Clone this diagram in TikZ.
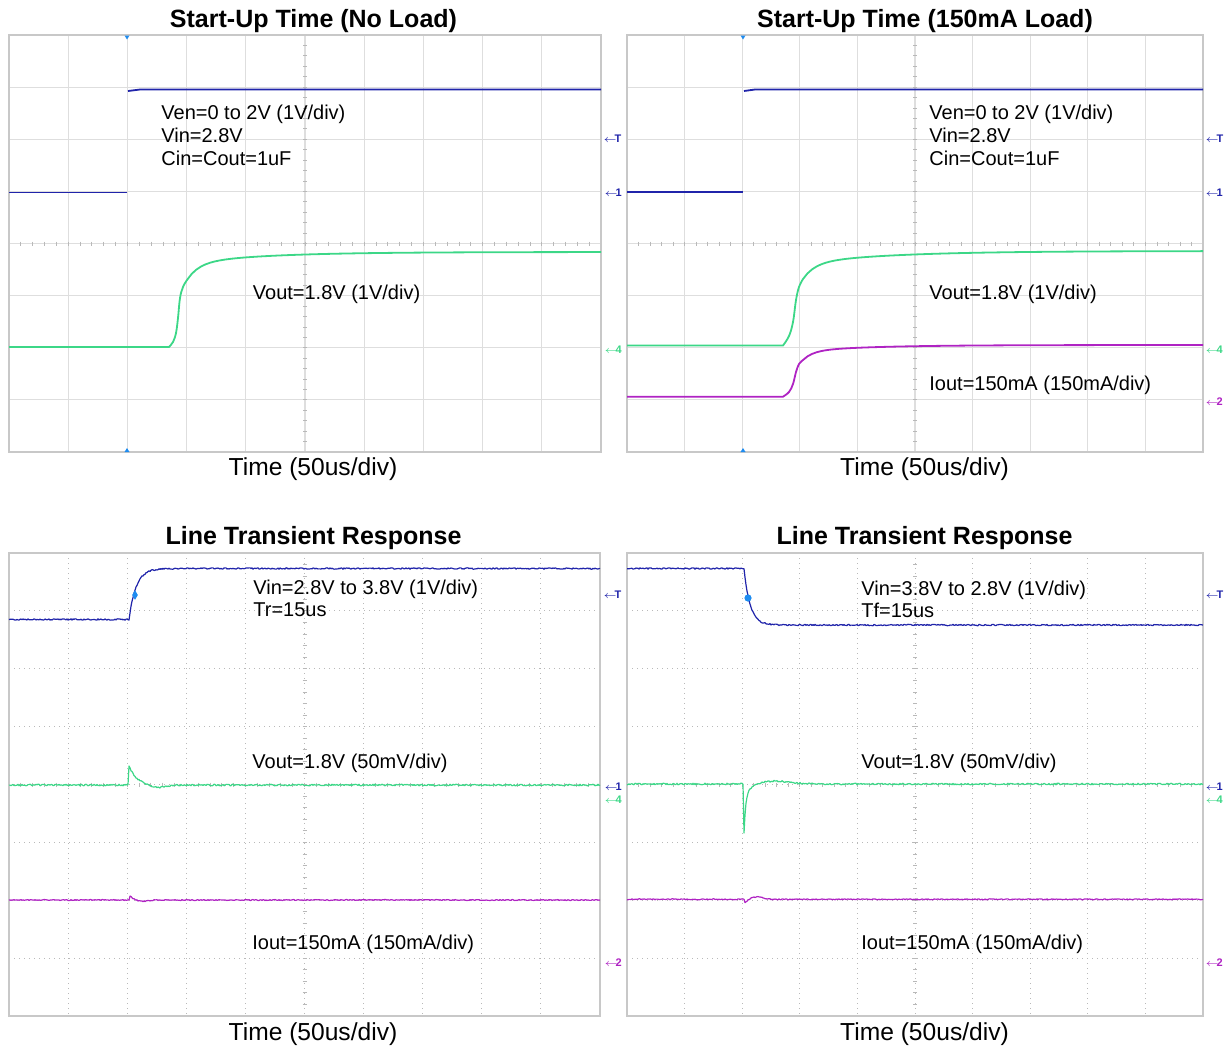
\documentclass[tikz,border=0pt]{standalone}
\usepackage{fontspec}
\setmainfont{Liberation Sans}
\usetikzlibrary{shapes.geometric}

\definecolor{trblue}{RGB}{32,36,170}
\definecolor{trgreen}{RGB}{60,215,135}
\definecolor{trmag}{RGB}{175,35,195}
\definecolor{mkblue}{RGB}{30,140,240}
\definecolor{gridgray}{RGB}{222,222,222}
\definecolor{dotgray}{RGB}{185,185,185}
\definecolor{framegray}{RGB}{200,200,200}

% screen: left, top, right, bottom, grid style
\newcommand{\drawgrid}[5]{%
  \foreach \i in {1,...,9}
    \draw[#5] ({#1+\i*((#3-#1)/10)},#2) -- ({#1+\i*((#3-#1)/10)},#4);
  \foreach \j in {1,...,7}
    \draw[#5] (#1,{#2+\j*((#4-#2)/8)}) -- (#3,{#2+\j*((#4-#2)/8)});
  \foreach \i in {1,...,49}
    \draw[divtick] ({#1+\i*((#3-#1)/50)},{(#2+#4)/2-2}) -- ++(0,4);
  \foreach \j in {1,...,39}
    \draw[divtick] ({(#1+#3)/2-2},{#2+\j*((#4-#2)/40)}) -- ++(4,0);
  \draw[screenframe] (#1,#2) rectangle (#3,#4);
}
% channel marker text
\newcommand{\chm}[1]{$\leftarrow$\kern-1.2pt#1}

\begin{document}
\begin{tikzpicture}[x=0.5pt, y=-0.5pt,
    declare function={ex(\t)=exp(min(0,max(-9,\t)));},
    gridsolid/.style={draw=gridgray, line width=0.6pt},
    griddot/.style={draw=dotgray, line width=0.5pt, dotted},
    divtick/.style={draw=dotgray, line width=0.4pt},
    screenframe/.style={draw=framegray, line width=0.6pt},
    chblue/.style={draw=trblue, line width=0.9pt, line join=round},
    chgreen/.style={draw=trgreen, line width=0.9pt, line join=round},
    chmag/.style={draw=trmag, line width=0.9pt, line join=round},
    noisy/.style={line width=0.6pt},
    lbl/.style={font=\fontsize{10}{12}\selectfont, inner sep=0pt, anchor=base west},
    title/.style={font=\fontsize{12.5}{14}\selectfont\bfseries, inner sep=0pt, anchor=base},
    axislbl/.style={font=\fontsize{12.3}{14}\selectfont, inner sep=0pt, anchor=base},
    chmark/.style={font=\fontsize{5.5}{5.5}\selectfont\bfseries, inner sep=0pt, anchor=west}]
  \useasboundingbox (0,0) rectangle (1225,1049);
  \pgfmathsetseed{11}

  % start-up, no load
  \drawgrid{9}{35}{601}{452}{gridsolid}
  \fill[mkblue] (124.5,35.5) -- (129.5,35.5) -- (127,39.5) -- cycle;
  \fill[mkblue] (124.5,452) -- (129.5,452) -- (127,448) -- cycle;
  \draw[chblue] (9,192.5) -- (127,192.5);
  \draw[chblue] (128,91) -- (140,89.5) -- (601,89.5);
  \draw[chgreen] (9,347) -- plot[smooth, tension=0.6] coordinates
      {(169,347) (173,342) (176,333) (178,318) (180,298) (183,287) (187,280)}
    -- plot[domain=187:601, samples=90] (\x,{252+17*ex(-(\x-187)/12)+11*ex(-(\x-187)/80)});
  \node[title] (t1) at (313.5,27) {Start-Up Time (No Load)};
  \node[lbl] (en1) at (161,119.3) {Ven=0 to 2V (1V/div)};
  \node[lbl] (in1) at (161,142.3) {Vin=2.8V};
  \node[lbl] (c1) at (161,165) {Cin=Cout=1uF};
  \node[lbl] (out1) at (252.5,299) {Vout=1.8V (1V/div)};
  \node[axislbl] (x1) at (313,475) {Time (50us/div)};
  \node[chmark, text=trblue] (mt1) at (603,139) {\chm{T}};
  \node[chmark, text=trblue] (ma1) at (604,193) {\chm{1}};
  \node[chmark, text=trgreen] (mb1) at (604,350) {\chm{4}};

  % start-up, 150mA load
  \drawgrid{627}{35}{1203}{452}{gridsolid}
  \fill[mkblue] (740.5,35.5) -- (745.5,35.5) -- (743,39.5) -- cycle;
  \fill[mkblue] (740.5,452) -- (745.5,452) -- (743,448) -- cycle;
  \draw[chblue] (627,192) -- (743,192);
  \draw[chblue] (744,91) -- (755,89.5) -- (1203,89.5);
  \draw[chgreen] (627,345.5) -- plot[smooth, tension=0.6] coordinates
      {(783,345.5) (789,336) (793,322) (796,300) (799,287) (803,279)}
    -- plot[domain=803:1203, samples=90] (\x,{251+16*ex(-(\x-803)/12)+12*ex(-(\x-803)/90)});
  \draw[chmag] (627,396.7) -- plot[smooth, tension=0.6] coordinates
      {(783,396.7) (789,392) (793,384) (796,372) (799,364) (803,360)}
    -- plot[domain=803:1203, samples=90] (\x,{345+9*ex(-(\x-803)/10)+6*ex(-(\x-803)/70)});
  \node[title] (t2) at (925,27) {Start-Up Time (150mA Load)};
  \node[lbl] (en2) at (929,119.3) {Ven=0 to 2V (1V/div)};
  \node[lbl] (in2) at (929,142.3) {Vin=2.8V};
  \node[lbl] (c2) at (929,165) {Cin=Cout=1uF};
  \node[lbl] (out2) at (929,299.5) {Vout=1.8V (1V/div)};
  \node[lbl] (io2) at (929,390) {Iout=150mA (150mA/div)};
  \node[axislbl] (x2) at (924.5,475) {Time (50us/div)};
  \node[chmark, text=trblue] (mt2) at (1205,139) {\chm{T}};
  \node[chmark, text=trblue] (ma2) at (1205,193) {\chm{1}};
  \node[chmark, text=trgreen] (mb2) at (1205,350) {\chm{4}};
  \node[chmark, text=trmag] (mc2) at (1205,402) {\chm{2}};

  % line transient, rising
  \drawgrid{9}{553}{600}{1016}{griddot}
  \draw[chblue, noisy] plot[domain=9:600, samples=592]
    (\x,{568.5+51*ex(-(\x-129)/7)+0.7*rand});
  \draw[chgreen, noisy] plot[domain=9:600, samples=592]
    (\x,{785-19*(\x>128.5)*ex(-(\x-129)/8)+3*ex(-((\x-157)/12)*((\x-157)/12))+0.8*rand});
  \draw[chmag, noisy] plot[domain=9:600, samples=592]
    (\x,{900-4.5*(\x>129.5)*ex(-(\x-130)/4)+1.5*ex(-((\x-142)/8)*((\x-142)/8))+0.5*rand});
  \node[diamond, fill=mkblue, inner sep=0pt, minimum width=3pt, minimum height=5pt] (trg3) at (135,595) {};
  \node[title] (t3) at (313.5,544) {Line Transient Response};
  \node[lbl] (in3) at (253,594.3) {Vin=2.8V to 3.8V (1V/div)};
  \node[lbl] (tr3) at (253,616.7) {Tr=15us};
  \node[lbl] (out3) at (252,768.3) {Vout=1.8V (50mV/div)};
  \node[lbl] (io3) at (252,949) {Iout=150mA (150mA/div)};
  \node[axislbl] (x3) at (313,1040) {Time (50us/div)};
  \node[chmark, text=trblue] (mt3) at (603,595) {\chm{T}};
  \node[chmark, text=trblue] (ma3) at (604,787) {\chm{1}};
  \node[chmark, text=trgreen] (mb3) at (604,800) {\chm{4}};
  \node[chmark, text=trmag] (mc3) at (604,963) {\chm{2}};

  % line transient, falling
  \drawgrid{627}{553}{1203}{1016}{griddot}
  \draw[chblue, noisy] plot[domain=627:1203, samples=577]
    (\x,{625-56.5*ex(-(\x-744)/6)+0.7*rand});
  \draw[chgreen, noisy] plot[domain=627:1203, samples=577]
    (\x,{784+(\x>743.5)*(35*ex(-(\x-744)/1.5)+15*ex(-(\x-744)/6))-3*ex(-((\x-775)/22.4)*((\x-775)/22.4))+0.8*rand});
  \draw[chmag, noisy] plot[domain=627:1203, samples=577]
    (\x,{899.3+4*(\x>744.5)*ex(-(\x-745)/3)-2.5*ex(-((\x-757)/8)*((\x-757)/8))+0.5*rand});
  \node[circle, fill=mkblue, inner sep=0pt, minimum size=3.6pt] (trg4) at (748,598) {};
  \node[title] (t4) at (924.5,544) {Line Transient Response};
  \node[lbl] (in4) at (861,595) {Vin=3.8V to 2.8V (1V/div)};
  \node[lbl] (tf4) at (861,617) {Tf=15us};
  \node[lbl] (out4) at (861,768.3) {Vout=1.8V (50mV/div)};
  \node[lbl] (io4) at (861,949) {Iout=150mA (150mA/div)};
  \node[axislbl] (x4) at (924.5,1040) {Time (50us/div)};
  \node[chmark, text=trblue] (mt4) at (1205,595) {\chm{T}};
  \node[chmark, text=trblue] (ma4) at (1205,787) {\chm{1}};
  \node[chmark, text=trgreen] (mb4) at (1205,800) {\chm{4}};
  \node[chmark, text=trmag] (mc4) at (1205,963) {\chm{2}};
\end{tikzpicture}
\end{document}
